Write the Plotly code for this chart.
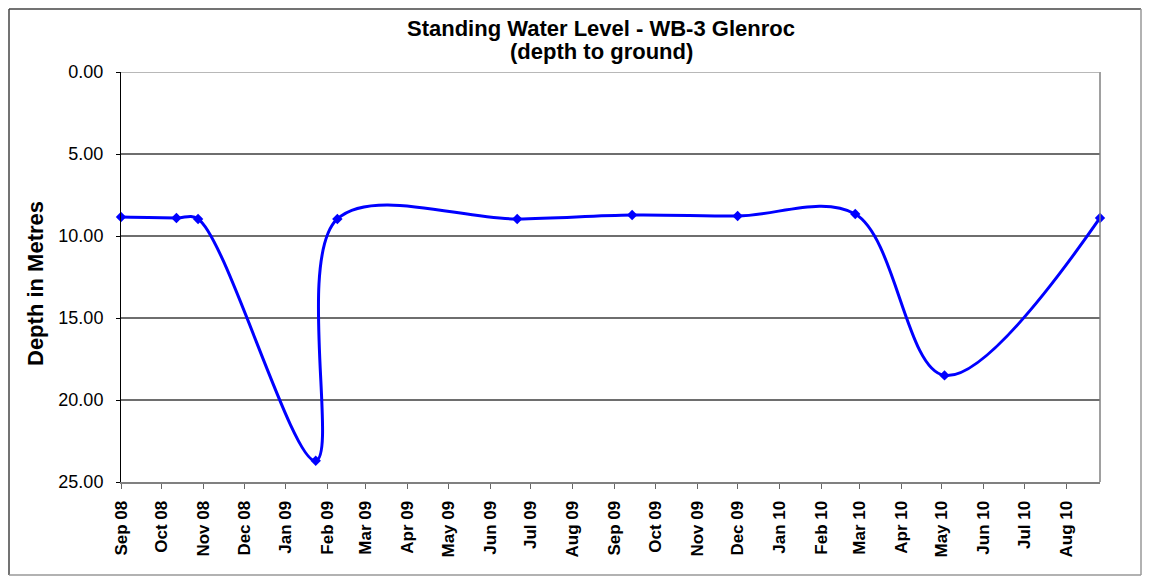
import plotly.graph_objects as go

dates = ["2008-09-01", "2008-10-12", "2008-10-28", "2009-01-23", "2009-02-08",
         "2009-06-21", "2009-09-14", "2009-12-01", "2010-02-26", "2010-05-03",
         "2010-08-26"]
depths = [8.84, 8.90, 8.96, 23.7, 8.96, 8.96, 8.72, 8.78, 8.66, 18.5, 8.90]

tick_dates = ["2008-09-01", "2008-10-01", "2008-11-01", "2008-12-01", "2009-01-01",
              "2009-02-01", "2009-03-01", "2009-04-01", "2009-05-01", "2009-06-01",
              "2009-07-01", "2009-08-01", "2009-09-01", "2009-10-01", "2009-11-01",
              "2009-12-01", "2010-01-01", "2010-02-01", "2010-03-01", "2010-04-01",
              "2010-05-01", "2010-06-01", "2010-07-01", "2010-08-01"]
tick_labels = ["Sep 08", "Oct 08", "Nov 08", "Dec 08", "Jan 09", "Feb 09", "Mar 09",
               "Apr 09", "May 09", "Jun 09", "Jul 09", "Aug 09", "Sep 09", "Oct 09",
               "Nov 09", "Dec 09", "Jan 10", "Feb 10", "Mar 10", "Apr 10", "May 10",
               "Jun 10", "Jul 10", "Aug 10"]
y_ticks = [0, 5, 10, 15, 20, 25]

FONT = "Liberation Sans, Arial, sans-serif"
W, H = 1135, 569
L, T, R, B = 113, 64, 43, 95
PW = W - L - R
PH = H - T - B


def px(fx):
    return (fx - L) / PW


def py(fy):
    return (H - B - fy) / PH


fig = go.Figure()
fig.add_trace(go.Scatter(
    x=dates, y=depths, mode="lines+markers",
    line=dict(color="#0000FF", width=3, shape="spline", smoothing=1.0),
    marker=dict(symbol="diamond", size=8, color="#0000FF"),
    cliponaxis=False, showlegend=False,
))

fig.update_layout(
    width=W, height=H,
    margin=dict(l=L, r=R, t=T, b=B),
    paper_bgcolor="white", plot_bgcolor="white",
    font=dict(family=FONT, color="black"),
    xaxis=dict(
        type="date", range=["2008-09-01", "2010-08-26"],
        tickmode="array", tickvals=tick_dates, ticktext=tick_labels,
        tickangle=-90, ticks="outside", ticklen=5, tickcolor="#666666",
        ticklabelstandoff=5,
        tickfont=dict(size=17, family=FONT, weight="bold"),
        showgrid=False, showline=True, linecolor="#808080", linewidth=2,
        zeroline=False,
    ),
    yaxis=dict(
        range=[25, 0], tickvals=y_ticks, tickformat=".2f",
        ticks="outside", ticklen=4, tickcolor="black",
        ticklabelstandoff=9,
        tickfont=dict(size=18),
        showgrid=True, gridcolor="#6e6e6e", gridwidth=1.5,
        showline=True, linecolor="black", linewidth=1, zeroline=False,
    ),
    annotations=[
        dict(text="<b>Standing Water Level - WB-3 Glenroc</b>",
             xref="paper", yref="paper", x=px(593), y=1, yshift=44,
             xanchor="center", yanchor="middle", showarrow=False,
             font=dict(size=22)),
        dict(text="<b>(depth to ground)</b>",
             xref="paper", yref="paper", x=px(593), y=1, yshift=21,
             xanchor="center", yanchor="middle", showarrow=False,
             font=dict(size=22)),
        dict(text="<b>Depth in Metres</b>", textangle=-90,
             xref="paper", yref="paper", x=0, xshift=-86, y=0.5, yshift=-7,
             xanchor="center", yanchor="middle", showarrow=False,
             font=dict(size=22)),
    ],
    shapes=[
        dict(type="line", xref="paper", yref="paper", x0=1, x1=1, y0=0, y1=1,
             line=dict(color="#808080", width=1.5)),
        dict(type="line", xref="paper", yref="y", x0=0, x1=1, y0=0, y1=0,
             line=dict(color="#a0a0a0", width=1.5)),
        dict(type="line", xref="paper", yref="paper",
             x0=px(1), x1=px(1), y0=py(567), y1=py(1),
             line=dict(color="#444444", width=1.5)),
        dict(type="line", xref="paper", yref="paper",
             x0=px(1), x1=px(W - 2), y0=py(1), y1=py(1),
             line=dict(color="#444444", width=1.5)),
        dict(type="line", xref="paper", yref="paper",
             x0=px(W - 2), x1=px(W - 2), y0=py(567), y1=py(1),
             line=dict(color="#999999", width=1.5)),
        dict(type="line", xref="paper", yref="paper",
             x0=px(1), x1=px(W - 2), y0=py(567), y1=py(567),
             line=dict(color="#999999", width=1.5)),
    ],
)

fig.write_html("out.html")
